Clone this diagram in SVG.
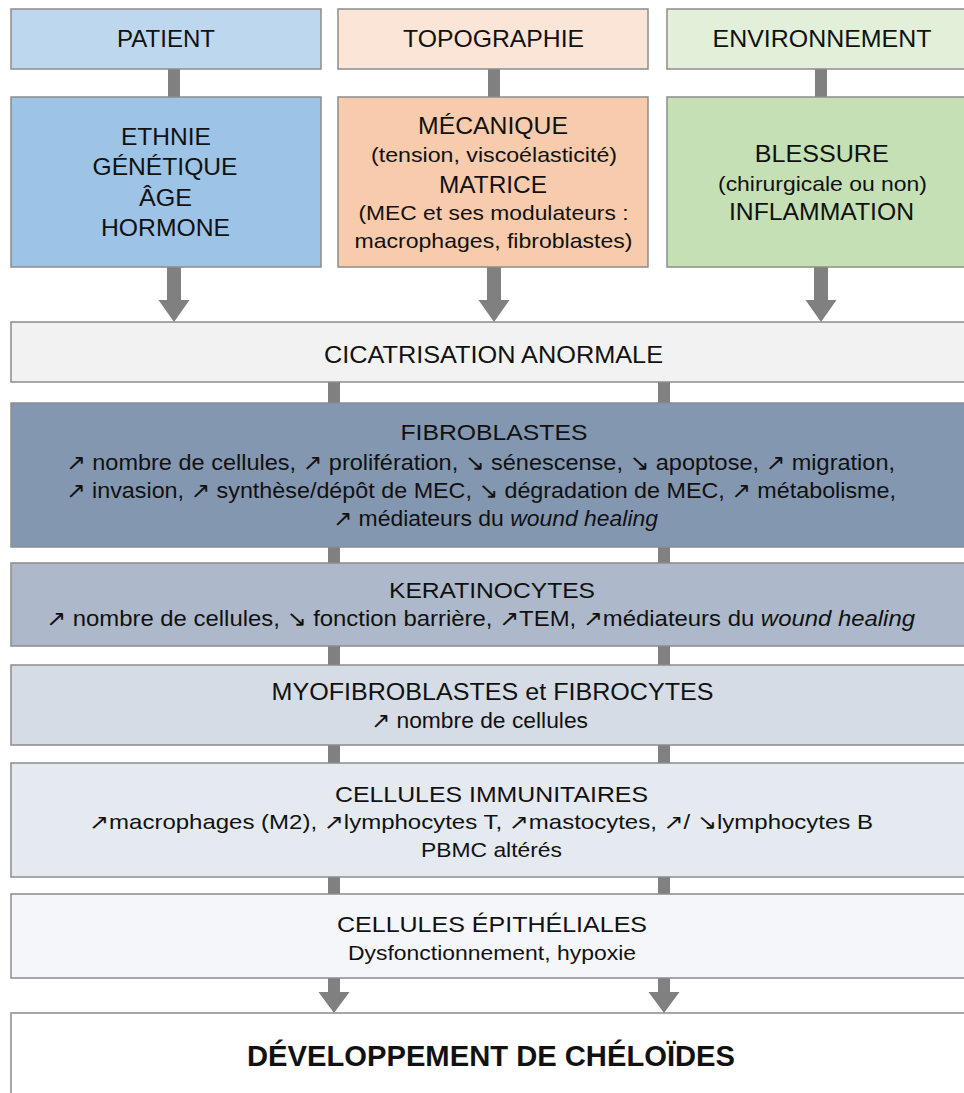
<svg xmlns="http://www.w3.org/2000/svg" width="964" height="1093" viewBox="0 0 964 1093">
<style>
.box{stroke:#8c8c8c;stroke-width:1.5}
.t{font-family:"Liberation Sans","DejaVu Sans",Arial,sans-serif;fill:#111111}
.c{text-anchor:middle}
.s{text-anchor:start}
.conn{fill:#808080}
</style>
<defs>
<path id="arr" d="M-7,0 H7 V34 H15.5 L0,56 L-15.5,34 H-7 Z" class="conn"/>
<path id="arr2" d="M-6,0 H6 V14 H15.5 L0,35 L-15.5,14 H-6 Z" class="conn"/>
</defs>
<rect width="964" height="1093" fill="#ffffff"/>

<g id="connectors">
<rect class="conn" x="168" y="68" width="12" height="30"/>
<rect class="conn" x="488" y="68" width="12" height="30"/>
<rect class="conn" x="815" y="68" width="12" height="30"/>
<use href="#arr" x="174" y="266"/>
<use href="#arr" x="494" y="266"/>
<use href="#arr" x="821" y="266"/>
<rect class="conn" x="328" y="381" width="12" height="23"/>
<rect class="conn" x="658" y="381" width="12" height="23"/>
<rect class="conn" x="328" y="546" width="12" height="18"/>
<rect class="conn" x="658" y="546" width="12" height="18"/>
<rect class="conn" x="328" y="645" width="12" height="21"/>
<rect class="conn" x="658" y="645" width="12" height="21"/>
<rect class="conn" x="328" y="744" width="12" height="20"/>
<rect class="conn" x="658" y="744" width="12" height="20"/>
<rect class="conn" x="328" y="876" width="12" height="19"/>
<rect class="conn" x="658" y="876" width="12" height="19"/>
<use href="#arr2" x="334" y="978"/>
<use href="#arr2" x="664" y="978"/>
</g>

<g id="patient">
<rect class="box" x="11" y="9" width="310" height="60" fill="#bdd7ee"/>
<text class="t c" x="166" y="47" font-size="24" textLength="98" lengthAdjust="spacingAndGlyphs">PATIENT</text>
</g>
<g id="topographie">
<rect class="box" x="338" y="9" width="310" height="60" fill="#fbe5d6"/>
<text class="t c" x="493.5" y="47" font-size="24" textLength="181" lengthAdjust="spacingAndGlyphs">TOPOGRAPHIE</text>
</g>
<g id="environnement">
<rect class="box" x="667" y="9" width="310" height="60" fill="#e2f0d9"/>
<text class="t c" x="822" y="47" font-size="24" textLength="219" lengthAdjust="spacingAndGlyphs">ENVIRONNEMENT</text>
</g>

<g id="patient-facteurs">
<rect class="box" x="11" y="97" width="310" height="170" fill="#9dc3e6"/>
<text class="t c" x="166" y="145" font-size="24" textLength="90" lengthAdjust="spacingAndGlyphs">ETHNIE</text>
<text class="t c" x="165" y="175" font-size="24" textLength="145" lengthAdjust="spacingAndGlyphs">GÉNÉTIQUE</text>
<text class="t c" x="165.5" y="205.5" font-size="24" textLength="53" lengthAdjust="spacingAndGlyphs">ÂGE</text>
<text class="t c" x="165.5" y="235.5" font-size="24" textLength="129" lengthAdjust="spacingAndGlyphs">HORMONE</text>
</g>
<g id="topographie-facteurs">
<rect class="box" x="338" y="97" width="310" height="170" fill="#f8cbad"/>
<text class="t c" x="493" y="134" font-size="23" textLength="150" lengthAdjust="spacingAndGlyphs">MÉCANIQUE</text>
<text class="t c" x="494" y="162" font-size="21" textLength="246" lengthAdjust="spacingAndGlyphs">(tension, viscoélasticité)</text>
<text class="t c" x="493" y="192.5" font-size="23" textLength="108" lengthAdjust="spacingAndGlyphs">MATRICE</text>
<text class="t c" x="493.5" y="220" font-size="21" textLength="270" lengthAdjust="spacingAndGlyphs">(MEC et ses modulateurs :</text>
<text class="t c" x="493.5" y="248" font-size="21" textLength="278" lengthAdjust="spacingAndGlyphs">macrophages, fibroblastes)</text>
</g>
<g id="environnement-facteurs">
<rect class="box" x="667" y="97" width="310" height="170" fill="#c5e0b4"/>
<text class="t c" x="821.7" y="162" font-size="24" textLength="134" lengthAdjust="spacingAndGlyphs">BLESSURE</text>
<text class="t c" x="822.5" y="190.5" font-size="21" textLength="209" lengthAdjust="spacingAndGlyphs">(chirurgicale ou non)</text>
<text class="t c" x="821.5" y="220" font-size="24" textLength="185" lengthAdjust="spacingAndGlyphs">INFLAMMATION</text>
</g>

<g id="cicatrisation">
<rect class="box" x="11" y="322" width="966" height="60" fill="#f2f2f2"/>
<text class="t c" x="493.5" y="362.5" font-size="24" textLength="339" lengthAdjust="spacingAndGlyphs">CICATRISATION ANORMALE</text>
</g>

<g id="fibroblastes">
<rect class="box" x="11" y="403" width="966" height="144" fill="#8497b0"/>
<text class="t c" x="494" y="440" font-size="22" textLength="187" lengthAdjust="spacingAndGlyphs">FIBROBLASTES</text>
<text class="t s" x="66" y="470" font-size="22" textLength="829" lengthAdjust="spacingAndGlyphs">↗ nombre de cellules, ↗ prolifération, ↘ sénescense, ↘ apoptose, ↗ migration,</text>
<text class="t s" x="66" y="498" font-size="22" textLength="830" lengthAdjust="spacingAndGlyphs">↗ invasion, ↗ synthèse/dépôt de MEC, ↘ dégradation de MEC, ↗ métabolisme,</text>
<text class="t s" x="333" y="526" font-size="22" textLength="325" lengthAdjust="spacingAndGlyphs">↗ médiateurs du <tspan font-style="italic">wound healing</tspan></text>
</g>

<g id="keratinocytes">
<rect class="box" x="11" y="563" width="966" height="83" fill="#adb9ca"/>
<text class="t c" x="492" y="598" font-size="22" textLength="206" lengthAdjust="spacingAndGlyphs">KERATINOCYTES</text>
<text class="t s" x="46" y="626" font-size="22" textLength="869" lengthAdjust="spacingAndGlyphs">↗ nombre de cellules, ↘ fonction barrière, ↗TEM, ↗médiateurs du <tspan font-style="italic">wound healing</tspan></text>
</g>

<g id="myofibroblastes">
<rect class="box" x="11" y="665" width="966" height="80" fill="#d6dce5"/>
<text class="t c" x="492.5" y="700" font-size="23" textLength="442" lengthAdjust="spacingAndGlyphs">MYOFIBROBLASTES et FIBROCYTES</text>
<text class="t s" x="371" y="728" font-size="22" textLength="217" lengthAdjust="spacingAndGlyphs">↗ nombre de cellules</text>
</g>

<g id="immunitaires">
<rect class="box" x="11" y="763" width="966" height="114" fill="#e5e9f0"/>
<text class="t c" x="491.5" y="802" font-size="22" textLength="313" lengthAdjust="spacingAndGlyphs">CELLULES IMMUNITAIRES</text>
<text class="t s" x="89" y="829" font-size="21" textLength="784" lengthAdjust="spacingAndGlyphs">↗macrophages (M2), ↗lymphocytes T, ↗mastocytes, ↗/ ↘lymphocytes B</text>
<text class="t c" x="491.5" y="857" font-size="21" textLength="141" lengthAdjust="spacingAndGlyphs">PBMC altérés</text>
</g>

<g id="epitheliales">
<rect class="box" x="11" y="894" width="966" height="84" fill="#f4f6f9"/>
<text class="t c" x="492" y="932" font-size="22" textLength="310" lengthAdjust="spacingAndGlyphs">CELLULES ÉPITHÉLIALES</text>
<text class="t c" x="492" y="960" font-size="21" textLength="288" lengthAdjust="spacingAndGlyphs">Dysfonctionnement, hypoxie</text>
</g>

<g id="developpement">
<rect class="box" x="11" y="1013" width="966" height="100" fill="#ffffff"/>
<text class="t c" x="491" y="1066" font-size="29" font-weight="bold" textLength="488" lengthAdjust="spacingAndGlyphs">DÉVELOPPEMENT DE CHÉLOÏDES</text>
</g>
</svg>
